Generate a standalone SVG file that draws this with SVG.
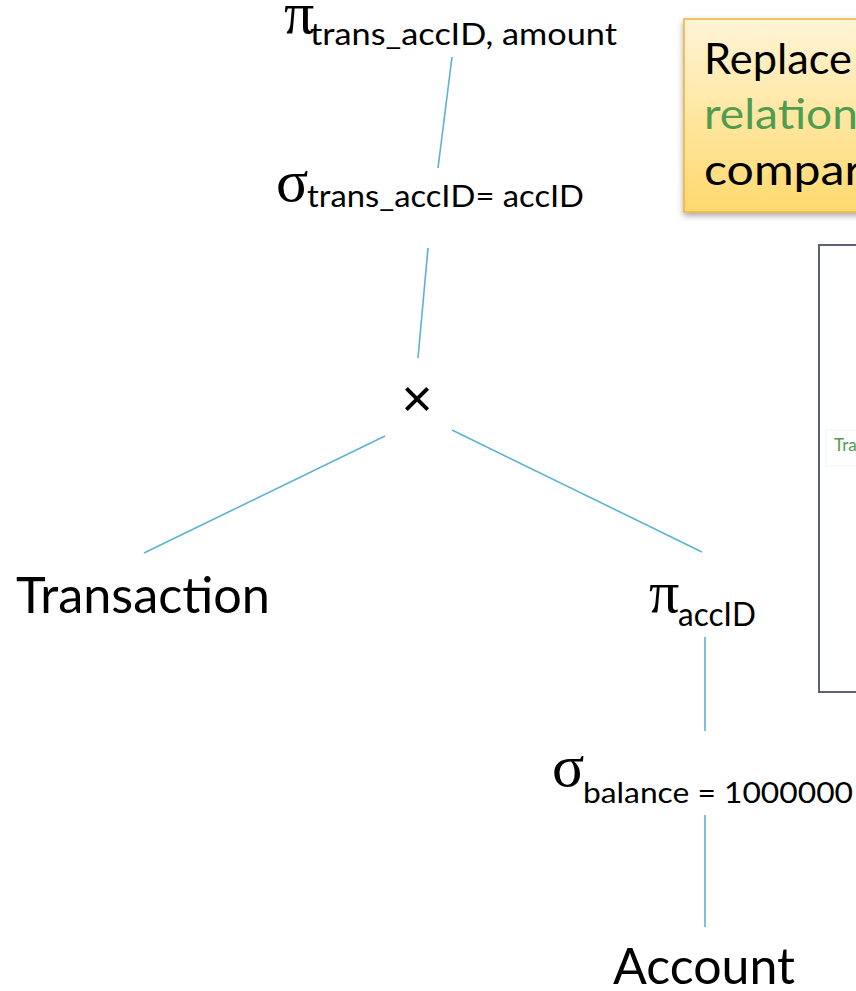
<svg xmlns="http://www.w3.org/2000/svg" width="856" height="991" viewBox="0 0 856 991">
  <defs>
    <linearGradient id="noteFill" x1="0" y1="0" x2="0" y2="1">
      <stop offset="0" stop-color="#fff4d6"/>
      <stop offset="1" stop-color="#ffd96e"/>
    </linearGradient>
    <filter id="noteShadow" x="-10%" y="-10%" width="130%" height="130%">
      <feGaussianBlur in="SourceAlpha" stdDeviation="3"/>
      <feOffset dx="0" dy="3" result="blur"/>
      <feComponentTransfer><feFuncA type="linear" slope="0.35"/></feComponentTransfer>
      <feMerge><feMergeNode/><feMergeNode in="SourceGraphic"/></feMerge>
    </filter>
    <style>
      .op { font-family: "Liberation Serif", "DejaVu Serif", serif; font-size: 60px; fill: #000; }
      .sub { font-family: Lato, "Open Sans", sans-serif; fill: #000; }
      .rel { font-family: Lato, "Open Sans", sans-serif; font-size: 50px; fill: #000; }
      .edge { stroke: #5ab4d0; stroke-width: 1.6; fill: none; }
      .note { font-family: Lato, "Open Sans", sans-serif; font-size: 42px; fill: #000; }
      .green { fill: #4f9d4f; }
    </style>
  </defs>

  <rect width="856" height="991" fill="#ffffff"/>

  <!-- connectors of the query tree -->
  <g id="edges">
    <line class="edge" x1="452" y1="57" x2="438" y2="168"/>
    <line class="edge" x1="428" y1="248" x2="418" y2="358"/>
    <line class="edge" x1="385" y1="436" x2="144" y2="553"/>
    <line class="edge" x1="452" y1="430" x2="702" y2="552"/>
    <line class="edge" x1="705" y1="637" x2="705" y2="731"/>
    <line class="edge" x1="705" y1="815" x2="705" y2="927"/>
  </g>

  <!-- projection on trans_accID, amount -->
  <g id="proj-top">
    <text class="op" x="284" y="33">π</text>
    <text class="sub" x="310" y="45" font-size="31" textLength="307" lengthAdjust="spacingAndGlyphs">trans_accID, amount</text>
  </g>

  <!-- join selection -->
  <g id="sel-join">
    <text class="op" x="276" y="201">σ</text>
    <text class="sub" x="307" y="207" font-size="31" textLength="277" lengthAdjust="spacingAndGlyphs">trans_accID= accID</text>
  </g>

  <!-- cartesian product -->
  <g id="product">
    <text x="417" y="417" text-anchor="middle" font-family="Liberation Sans, sans-serif" font-size="54" fill="#000">×</text>
  </g>

  <g id="transaction">
    <text class="rel" x="16" y="613" textLength="254" lengthAdjust="spacingAndGlyphs">Transaction</text>
  </g>

  <!-- projection on accID -->
  <g id="proj-acc">
    <text class="op" x="649" y="612">π</text>
    <text class="sub" x="678" y="626" font-size="32" textLength="78" lengthAdjust="spacingAndGlyphs">accID</text>
  </g>

  <!-- balance selection -->
  <g id="sel-balance">
    <text class="op" x="552" y="786">σ</text>
    <text class="sub" x="583" y="803" font-size="29" textLength="270" lengthAdjust="spacingAndGlyphs">balance = 1000000</text>
  </g>

  <g id="account">
    <text class="rel" x="613" y="984" textLength="182" lengthAdjust="spacingAndGlyphs">Account</text>
  </g>

  <!-- callout note -->
  <g id="note">
    <rect x="684" y="19" width="200" height="193" fill="url(#noteFill)" stroke="#f2b234" stroke-width="1.5" filter="url(#noteShadow)"/>
    <text class="note" x="704" y="74" textLength="148" lengthAdjust="spacingAndGlyphs">Replace</text>
    <text class="note green" x="704" y="129" textLength="154" lengthAdjust="spacingAndGlyphs">relation</text>
    <text class="note" x="704" y="185" textLength="158" lengthAdjust="spacingAndGlyphs">compar</text>
  </g>

  <!-- framed panel -->
  <g id="panel">
    <rect x="819" y="245" width="80" height="447" fill="#ffffff" stroke="#5c6178" stroke-width="2"/>
    <rect x="826" y="430" width="60" height="36" fill="#ffffff" stroke="#f4f4f4" stroke-width="1"/>
    <text x="834" y="451" font-family="Lato, 'Open Sans', sans-serif" font-size="17" fill="#4f9d4f">Tra</text>
  </g>
</svg>
